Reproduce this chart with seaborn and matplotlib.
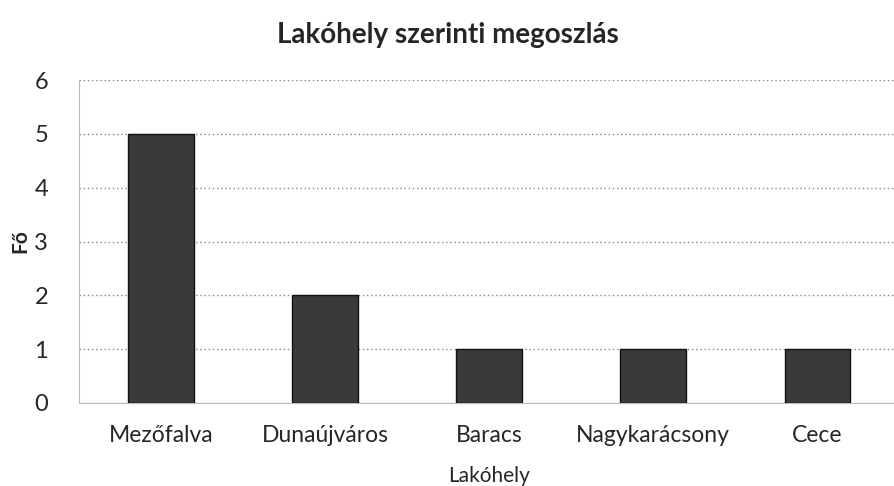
import pandas as pd
import seaborn as sns
import matplotlib.pyplot as plt

# Residence distribution data
places = ["Mezőfalva", "Dunaújváros", "Baracs", "Nagykarácsony", "Cece"]
counts = [5, 2, 1, 1, 1]

df = pd.DataFrame({"Lakóhely": places, "Fő": counts})

sns.set_style("white")
plt.rcParams["font.family"] = ["Lato", "DejaVu Sans"]

fig = plt.figure(figsize=(8.95, 4.86), dpi=100)
ax = fig.add_axes([0.088, 0.171, 0.917, 0.664])

sns.barplot(data=df, x="Lakóhely", y="Fő", color="#3a3a3a",
            edgecolor="#111111", linewidth=1, width=0.4, ax=ax, zorder=3)

ax.set_ylim(0, 6)
ax.set_xlim(-0.5, 4.5)
ax.set_yticks(range(0, 7))
ax.yaxis.grid(True, linestyle=(0, (1, 2)), color="#888888", linewidth=1, zorder=0)

for side in ["top", "right"]:
    ax.spines[side].set_visible(False)
ax.spines["left"].set_color("#bbbbbb")
ax.spines["left"].set_linestyle((0, (1, 1)))
ax.spines["bottom"].set_color("#bbbbbb")
ax.spines["bottom"].set_linestyle((0, (1, 1)))

ax.tick_params(axis="x", length=0, labelsize=16.5, pad=16)
ax.tick_params(axis="y", length=0, labelsize=17, pad=22)

ax.set_xlabel("Lakóhely", fontsize=15, labelpad=14)
ax.set_ylabel("Fő", fontsize=15, fontweight="bold", labelpad=3)
fig.suptitle("Lakóhely szerinti megoszlás", fontsize=20, fontweight="bold",
             x=0.5, y=0.955)

plt.savefig("out.png", dpi=100)
